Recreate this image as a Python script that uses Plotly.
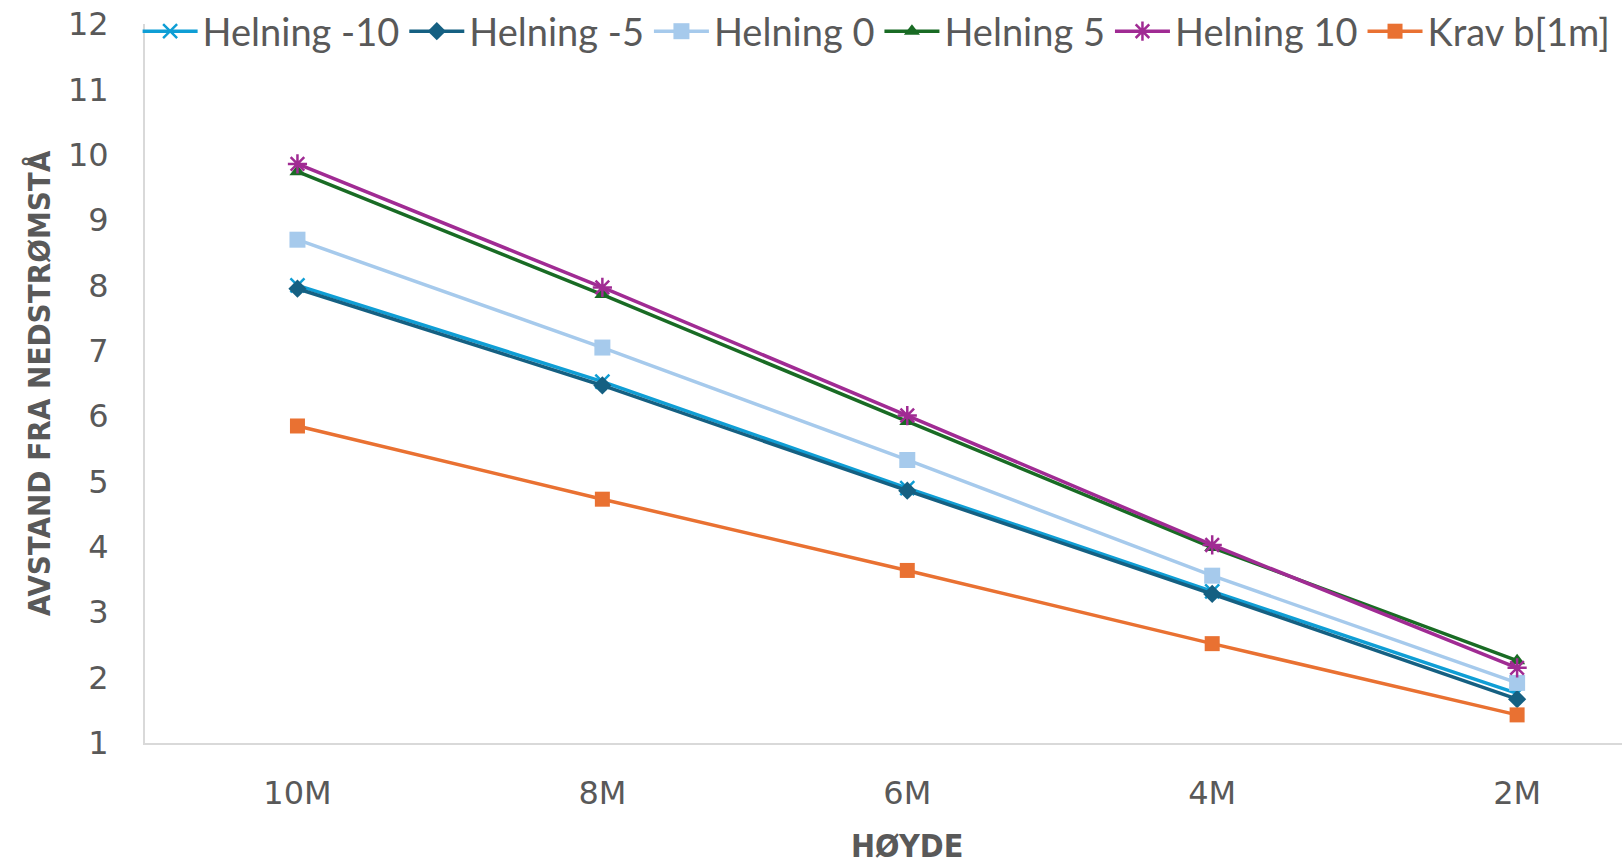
import plotly.graph_objects as go

# Heights along the x axis and distance from downstream edge per slope
hoyde = ["10M", "8M", "6M", "4M", "2M"]
helning_m10 = [8.00, 6.53, 4.90, 3.32, 1.76]
helning_m5 = [7.95, 6.47, 4.86, 3.28, 1.67]
helning_0 = [8.70, 7.05, 5.33, 3.56, 1.92]
helning_5 = [9.74, 7.86, 5.92, 3.99, 2.26]
helning_10 = [9.86, 7.97, 6.01, 4.03, 2.15]
krav_b = [5.85, 4.73, 3.64, 2.52, 1.43]

TXT = "#595959"
LEGEND_FONT = "Lato"
TICK_FONT = "DejaVu Sans"
TITLE_FONT = "DejaVu Sans Condensed"

series = [
    ("Helning -10", helning_m10, "#0F9ED5", dict(symbol="x-thin-open", size=14, line=dict(width=2.5, color="#0F9ED5"))),
    ("Helning -5", helning_m5, "#156082", dict(symbol="diamond", size=14)),
    ("Helning 0", helning_0, "#A6CAEC", dict(symbol="square", size=16)),
    ("Helning 5", helning_5, "#196B24", dict(symbol="triangle-up", size=14)),
    ("Helning 10", helning_10, "#A02B93", dict(symbol="asterisk-open", size=16, line=dict(width=2.5, color="#A02B93"))),
    ("Krav b[1m]", krav_b, "#E97132", dict(symbol="square", size=15)),
]

fig = go.Figure()
for name, vals, col, mk in series:
    fig.add_trace(go.Scatter(
        x=hoyde, y=vals, name=name, mode="lines+markers",
        line=dict(color=col, width=3.5),
        marker=dict(color=col, **mk),
    ))

fig.update_layout(
    width=1622, height=867,
    margin=dict(l=145, r=0, t=23, b=124),
    paper_bgcolor="white", plot_bgcolor="white",
    font=dict(family=LEGEND_FONT, color=TXT, size=26),
    legend=dict(
        orientation="h", x=-0.005, xanchor="left", y=1.034, yanchor="top",
        bgcolor="rgba(0,0,0,0)", font=dict(size=38, color=TXT, family=LEGEND_FONT),
        itemwidth=55, tracegroupgap=0,
    ),
    xaxis=dict(
        type="category", range=[-0.5, 4.344],
        showline=True, linecolor="#D9D9D9", linewidth=2,
        showgrid=False, zeroline=False, ticks="",
        tickfont=dict(size=32, color=TXT, family=TICK_FONT),
        ticklabelstandoff=21,
    ),
    yaxis=dict(
        range=[1, 12], dtick=1, tick0=1,
        showline=True, linecolor="#D9D9D9", linewidth=2,
        showgrid=False, zeroline=False, ticks="",
        tickfont=dict(size=32, color=TXT, family=TICK_FONT),
        ticklabelstandoff=28,
        title=dict(text="<b>AVSTAND FRA NEDSTRØMSTÅ</b>", font=dict(size=31, color=TXT, family=TITLE_FONT), standoff=8),
    ),
    annotations=[dict(
        text="<b>HØYDE</b>", xref="paper", yref="paper", x=0.516, y=-0.143,
        xanchor="center", yanchor="middle", showarrow=False,
        font=dict(size=32, color=TXT, family=TITLE_FONT),
    )],
)

fig.write_html("out.html")
